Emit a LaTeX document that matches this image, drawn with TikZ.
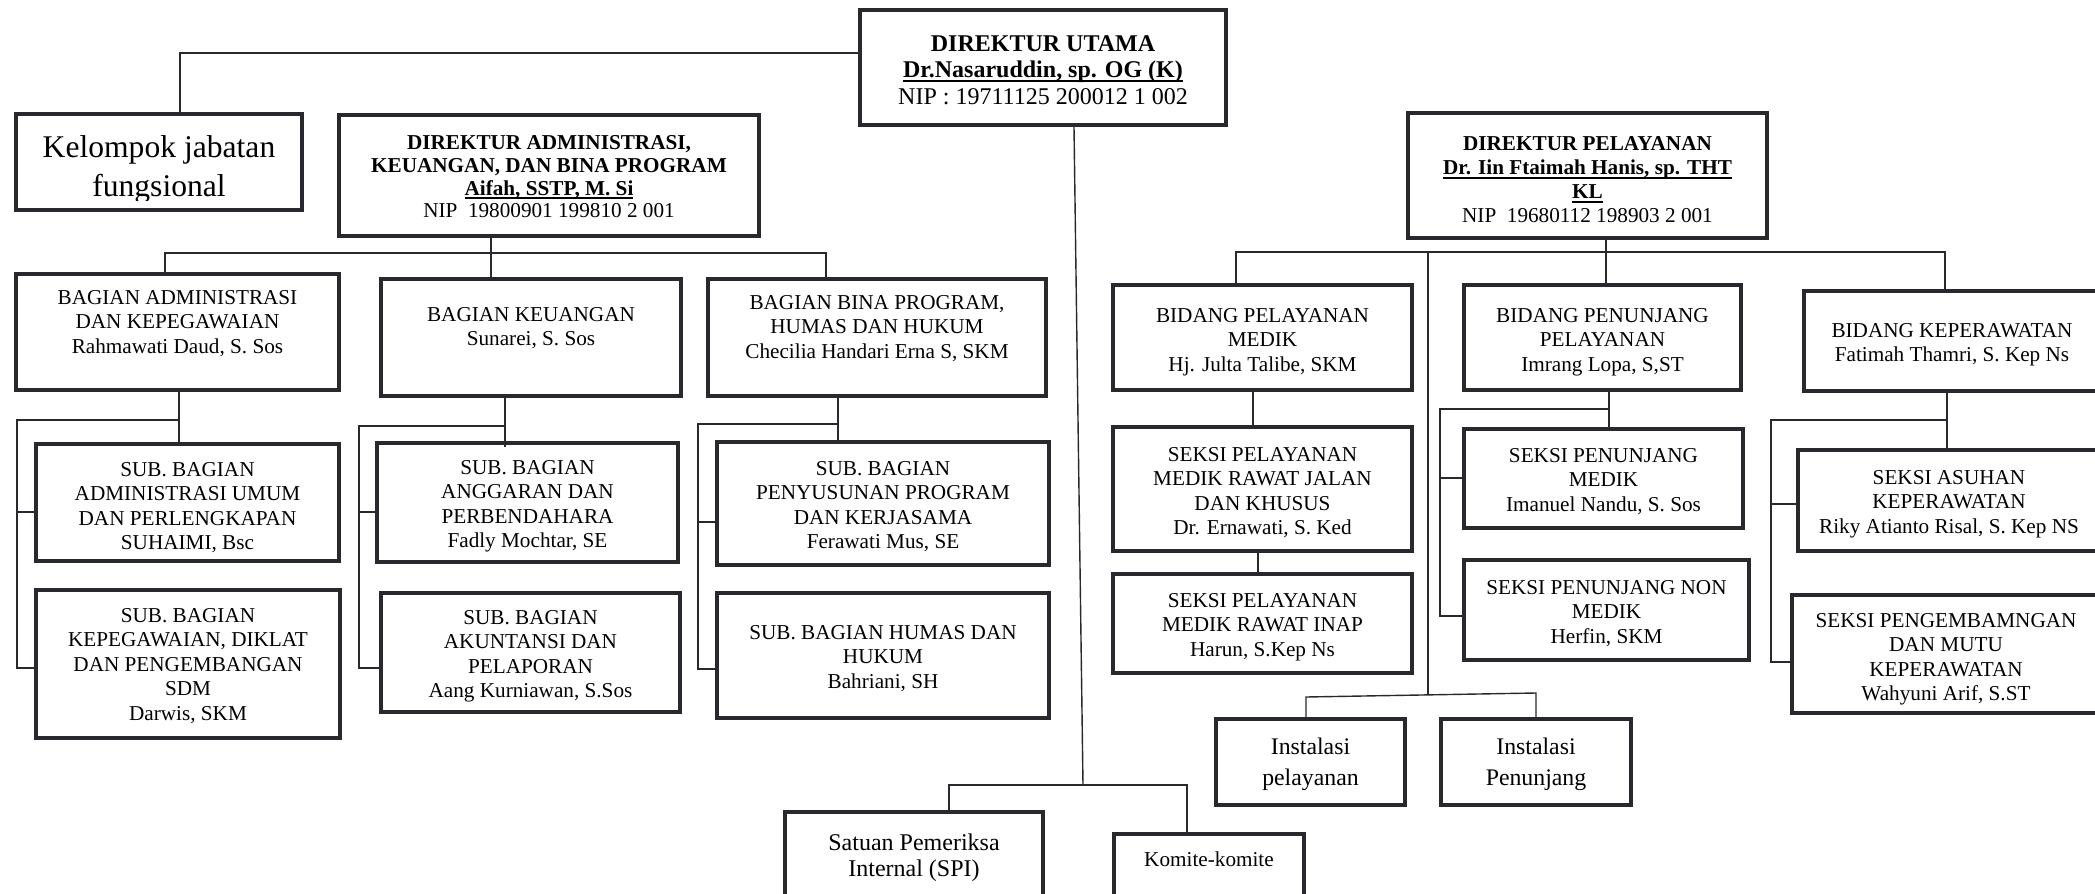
\documentclass[tikz,border=0pt]{standalone}
\usepackage{fontspec}
\setmainfont{Liberation Serif}
\definecolor{bd}{RGB}{40,40,46}
\tikzset{
  obox/.style={draw=bd, line width=2.2pt, inner sep=0pt},
  txt/.style={inner sep=0pt, align=center, text=black},
  body/.style={font=\fontsize{10.6}{12.2}\selectfont},
  head/.style={font=\fontsize{10.6}{11.4}\selectfont},
  headp/.style={font=\fontsize{10.6}{12.1}\selectfont},
  dutxt/.style={font=\fontsize{12}{13.3}\selectfont},
  bigtxt/.style={font=\fontsize{15.8}{19.5}\selectfont},
  insttxt/.style={font=\fontsize{11.9}{15.5}\selectfont},
  spitxt/.style={font=\fontsize{12}{13.3}\selectfont},
  conn/.style={draw=bd, line width=0.7pt},
}
% underline drawn just under the baseline
\newcommand\uline[1]{\leavevmode\setbox0\hbox{#1}\rlap{\rule[-2.1pt]{\wd0}{0.95pt}}\box0}
% name, x1, y1, x2, y2, text top y, text style, text
\newcommand\orgbox[8]{%
  \node[txt, #7, anchor=north] (#1-t) at ({(#2+#4)/2},#6) {#8};
  \node[obox, minimum width={(#4-#2-4.4)*0.5pt}, minimum height={(#5-#3-4.4)*0.5pt}] (#1) at ({(#2+#4)/2},{(#3+#5)/2}) {};
}
\begin{document}
\begin{tikzpicture}[x=0.5pt, y=-0.5pt]
\useasboundingbox (0,0) rectangle (2095,894);
\fill[white] (0,0) rectangle (2095,894);
\clip (0,0) rectangle (2095,894);

% top level
\orgbox{DU}{858}{8}{1228}{127}{35}{dutxt}{\textbf{DIREKTUR UTAMA}\\\textbf{\uline{Dr.Nasaruddin, sp. OG (K)}}\\NIP : 19711125 200012 1 002}
\begin{scope}
\clip (0,0) rectangle (2095,200);
\node[txt, bigtxt, anchor=north] (kel-t) at (159,135) {Kelompok jabatan\\fungsional};
\end{scope}
\node[obox, minimum width={(304-14-4.4)*0.5pt}, minimum height={(212-112-4.4)*0.5pt}] (kel) at (159,162) {};
\orgbox{ADM}{337}{113}{761}{238}{135}{head}{\textbf{DIREKTUR ADMINISTRASI,}\\\textbf{KEUANGAN, DAN BINA PROGRAM}\\\textbf{\uline{Aifah, SSTP, M. Si}}\\NIP\ \ 19800901 199810 2 001}
\orgbox{PEL}{1406}{111}{1769}{240}{136}{headp}{\textbf{DIREKTUR PELAYANAN}\\\textbf{\uline{Dr. Iin Ftaimah Hanis, sp. THT}}\\\textbf{\uline{KL}}\\NIP\ \ 19680112 198903 2 001}

% administration branch
\orgbox{BA}{14}{272}{341}{392}{290}{body}{BAGIAN ADMINISTRASI\\DAN KEPEGAWAIAN\\Rahmawati Daud, S. Sos}
\orgbox{BK}{379}{277}{683}{398}{307}{body}{BAGIAN KEUANGAN\\Sunarei, S. Sos}
\orgbox{BB}{706}{277}{1048}{398}{295}{body}{BAGIAN BINA PROGRAM,\\HUMAS DAN HUKUM\\Checilia Handari Erna S, SKM}
\orgbox{SA1}{34}{442}{341}{563}{462}{body}{SUB. BAGIAN\\ADMINISTRASI UMUM\\DAN PERLENGKAPAN\\SUHAIMI, Bsc}
\orgbox{SA2}{34}{588}{342}{740}{608}{body}{SUB. BAGIAN\\KEPEGAWAIAN, DIKLAT\\DAN PENGEMBANGAN\\SDM\\Darwis, SKM}
\orgbox{SK1}{375}{441}{680}{564}{460}{body}{SUB. BAGIAN\\ANGGARAN DAN\\PERBENDAHARA\\Fadly Mochtar, SE}
\orgbox{SK2}{379}{591}{682}{714}{610}{body}{SUB. BAGIAN\\AKUNTANSI DAN\\PELAPORAN\\Aang Kurniawan, S.Sos}
\orgbox{SB1}{715}{440}{1051}{567}{461}{body}{SUB. BAGIAN\\PENYUSUNAN PROGRAM\\DAN KERJASAMA\\Ferawati Mus, SE}
\orgbox{SB2}{715}{591}{1051}{720}{625}{body}{SUB. BAGIAN HUMAS DAN\\HUKUM\\Bahriani, SH}

% service branch
\orgbox{BM}{1111}{283}{1414}{392}{308}{body}{BIDANG PELAYANAN\\MEDIK\\Hj. Julta Talibe, SKM}
\orgbox{BM1}{1111}{425}{1414}{553}{447}{body}{SEKSI PELAYANAN\\MEDIK RAWAT JALAN\\DAN KHUSUS\\Dr. Ernawati, S. Ked}
\orgbox{BM2}{1111}{572}{1414}{675}{593}{body}{SEKSI PELAYANAN\\MEDIK RAWAT INAP\\Harun, S.Kep Ns}
\orgbox{BP}{1462}{283}{1743}{392}{308}{body}{BIDANG PENUNJANG\\PELAYANAN\\Imrang Lopa, S,ST}
\orgbox{BP1}{1462}{427}{1745}{530}{448}{body}{SEKSI PENUNJANG\\MEDIK\\Imanuel Nandu, S. Sos}
\orgbox{BP2}{1462}{558}{1751}{662}{580}{body}{SEKSI PENUNJANG NON\\MEDIK\\Herfin, SKM}
\orgbox{BKp}{1802}{289}{2102}{393}{323}{body}{BIDANG KEPERAWATAN\\Fatimah Thamri, S. Kep Ns}
\orgbox{BK1}{1796}{448}{2102}{553}{470}{body}{SEKSI ASUHAN\\KEPERAWATAN\\Riky Atianto Risal, S. Kep NS}
\orgbox{BK2}{1790}{593}{2102}{715}{613}{body}{SEKSI PENGEMBAMNGAN\\DAN MUTU\\KEPERAWATAN\\Wahyuni Arif, S.ST}
\orgbox{I1}{1214}{717}{1407}{807}{738}{insttxt}{Instalasi\\pelayanan}
\orgbox{I2}{1439}{717}{1633}{807}{738}{insttxt}{Instalasi\\Penunjang}

% bottom
\orgbox{SPI}{783}{810}{1045}{930}{833}{spitxt}{Satuan Pemeriksa\\Internal (SPI)}
\orgbox{KOM}{1112}{832}{1306}{930}{851}{body}{Komite-komite}

% ---------- connectors ----------
\coordinate (kj) at (180,53);
\draw[conn] (DU.west |- kj) -- (kj) -- (kj |- kel.north);

\coordinate (admbar) at (491,253);
\coordinate (ab1) at (165,253);
\coordinate (ab3) at (826,253);
\draw[conn] (ADM.south -| admbar) -- (admbar);
\draw[conn] (ab1 |- BA.north) -- (ab1) -- (ab3) -- (ab3 |- BB.north);
\draw[conn] (admbar) -- (admbar |- BK.north);

% Bagian Administrasi
\coordinate (bj1) at (179,420);
\coordinate (bl1) at (17,420);
\coordinate (bt1) at (17,512);
\coordinate (bt2) at (17,668);
\draw[conn] (BA.south -| bj1) -- (bj1 |- SA1.north);
\draw[conn] (bj1) -- (bl1) -- (bt2) -- (bt2 -| SA2.west);
\draw[conn] (bt1) -- (bt1 -| SA1.west);

% Bagian Keuangan
\coordinate (kj1) at (505,426);
\coordinate (kl1) at (359,426);
\coordinate (kt1) at (359,512);
\coordinate (kt2) at (359,668);
\draw[conn] (BK.south -| kj1) -- ([yshift=-3pt]kj1 |- SK1.north);
\draw[conn] (kj1) -- (kl1) -- (kt2) -- (kt2 -| SK2.west);
\draw[conn] (kt1) -- (kt1 -| SK1.west);

% Bagian Bina
\coordinate (nj1) at (838,424);
\coordinate (nl1) at (698,424);
\coordinate (nt1) at (698,522);
\coordinate (nt2) at (698,669);
\draw[conn] (BB.south -| nj1) -- (nj1 |- SB1.north);
\draw[conn] (nj1) -- (nl1) -- (nt2) -- (nt2 -| SB2.west);
\draw[conn] (nt1) -- (nt1 -| SB1.west);

% Direktur Utama long line
\coordinate (du1) at (1074,127);
\coordinate (sb) at (1083,785);
\coordinate (sp1) at (949,785);
\coordinate (sp2) at (1187,785);
\draw[conn] (DU.south -| du1) -- (sb);
\draw[conn] (SPI.north -| sp1) -- (sp1) -- (sp2) -- (KOM.north -| sp2);

% Direktur Pelayanan
\coordinate (pj) at (1606,252);
\coordinate (pb1) at (1236,252);
\coordinate (pb2) at (1945,252);
\coordinate (pl) at (1428,252);
\coordinate (ib) at (1428,695);
\coordinate (ib1) at (1306,697);
\coordinate (ib2) at (1536,693);
\draw[conn] (PEL.south -| pj) -- (pj);
\draw[conn] (BM.north -| pb1) -- (pb1) -- (pb2) -- (BKp.north -| pb2);
\draw[conn] (pj) -- (pj |- BP.north);
\draw[conn] (pl) -- (ib);
\draw[conn] (I1.north -| ib1) -- (ib1) -- (ib2) -- (I2.north -| ib2);

% Bidang Pelayanan Medik
\coordinate (mj1) at (1253,400);
\coordinate (mj2) at (1258,560);
\draw[conn] (BM.south -| mj1) -- (BM1.north -| mj1);
\draw[conn] (BM1.south -| mj2) -- (BM2.north -| mj2);

% Bidang Penunjang
\coordinate (qj1) at (1609,409);
\coordinate (ql1) at (1440,409);
\coordinate (qt1) at (1440,478);
\coordinate (qt2) at (1440,616);
\draw[conn] (BP.south -| qj1) -- (BP1.north -| qj1);
\draw[conn] (qj1) -- (ql1) -- (qt2) -- (qt2 -| BP2.west);
\draw[conn] (qt1) -- (qt1 -| BP1.west);

% Bidang Keperawatan
\coordinate (rj1) at (1947,420);
\coordinate (rl1) at (1771,420);
\coordinate (rt1) at (1771,504);
\coordinate (rt2) at (1771,662);
\draw[conn] (BKp.south -| rj1) -- (BK1.north -| rj1);
\draw[conn] (rj1) -- (rl1) -- (rt2) -- (rt2 -| BK2.west);
\draw[conn] (rt1) -- (rt1 -| BK1.west);
\end{tikzpicture}
\end{document}
